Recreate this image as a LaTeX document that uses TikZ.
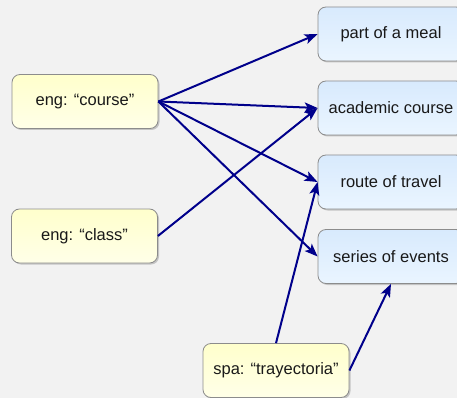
\documentclass[tikz,border=0pt]{standalone}
\usepackage{fontspec}
\setmainfont{Liberation Sans}
\usepackage{tikz}
\usetikzlibrary{arrows.meta,shadows}

\definecolor{bgcol}{HTML}{F2F2F2}
\definecolor{wordtop}{HTML}{FFFFCC}
\definecolor{wordbot}{HTML}{FFFFE8}
\definecolor{sensetop}{HTML}{D8EAFD}
\definecolor{sensebot}{HTML}{EAF5FF}
\definecolor{boxline}{HTML}{8C8C8C}
\definecolor{linkcol}{HTML}{00008B}

\begin{document}
\begin{tikzpicture}[x=1pt, y=-1pt,
    box/.style={rectangle, rounded corners=8pt, draw=boxline, line width=0.8pt,
        minimum width=146pt, minimum height=54pt, inner sep=2pt,
        font=\fontsize{16.5}{20}\selectfont, text=black!90,
        drop shadow={shadow xshift=1.5pt, shadow yshift=-1.5pt, fill=black!35, opacity=0.6}},
    word/.style={box, top color=wordtop, bottom color=wordbot},
    sense/.style={box, top color=sensetop, bottom color=sensebot},
    link/.style={draw=linkcol, line width=2pt, -{Stealth[length=13pt, width=10pt, inset=3pt]}}]
        \fill[bgcol] (0,0) rectangle (457,398);
        \useasboundingbox (0,0) rectangle (457,398);
        \node[word] (course) at (85,101.5) {eng: “course”};
        \node[word] (class) at (84.5,236) {eng: “class”};
        \node[word] (tray) at (276,370.5) {spa: “trayectoria”};
        \node[sense] (meal) at (391,34) {part of a meal};
        \node[sense] (acad) at (391,108) {academic course};
        \node[sense] (route) at (391,182) {route of travel};
        \node[sense] (series) at (391,256.5) {series of events};
        % word to sense links
        \draw[link] (course.east) -- (meal.west);
        \draw[link] (course.east) -- (acad.west);
        \draw[link] (course.east) -- (route.west);
        \draw[link] (course.east) -- (series.west);
        \draw[link] (class.east) -- (acad.west);
        \draw[link] (tray.north) -- (route.west);
        \draw[link] (tray.east) -- (series.south);
    \end{tikzpicture}
\end{document}
